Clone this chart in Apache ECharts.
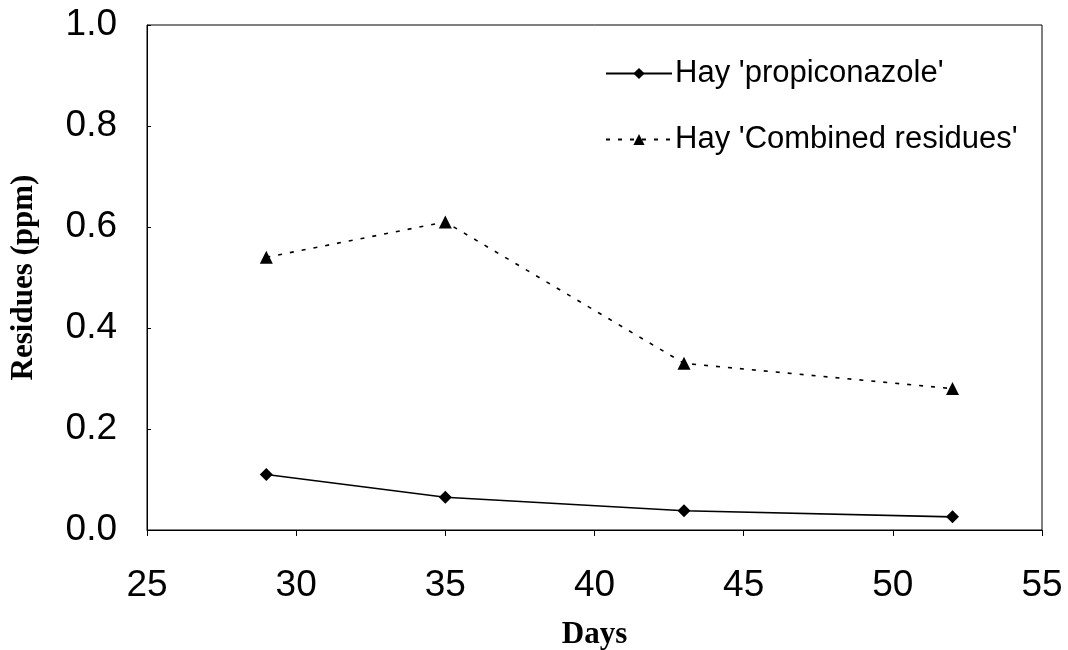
<!DOCTYPE html>
<html>
<head>
<meta charset="utf-8">
<script src="https://cdn.jsdelivr.net/npm/echarts@6/dist/echarts.min.js"></script>
<style>html,body{margin:0;padding:0;background:#fff;}#c{width:1068px;height:650px;}</style>
</head>
<body>
<div id="c"></div>
<script>
const days = [29, 35, 43, 52];
const propiconazole = [0.11, 0.065, 0.038, 0.026];
const combined = [0.54, 0.61, 0.33, 0.28];
const seriesNames = ["Hay 'propiconazole'", "Hay 'Combined residues'"];
const xTitle = "Days";
const yTitle = "Residues (ppm)";

const chart = echarts.init(document.getElementById('c'));
chart.setOption({
  backgroundColor: '#fff',
  animation: false,
  grid: { left: 147, right: 26, top: 25, bottom: 120, show: true, borderColor: '#000', borderWidth: 1, outerBoundsMode: 'none', containLabel: false },
  legend: {
    orient: 'vertical', left: 600, top: 53, itemWidth: 66, itemHeight: 14, itemGap: 35,
    textStyle: { fontFamily: 'Liberation Sans, Arial', fontSize: 31, color: '#000', padding: [0,0,0,-2] },
    data: seriesNames
  },
  xAxis: {
    type: 'value', min: 25, max: 55, interval: 5,
    name: xTitle, nameLocation: 'middle', nameGap: 89,
    nameTextStyle: { fontFamily: 'Liberation Serif, Times New Roman', fontWeight: 'bold', fontSize: 31, color: '#000' },
    axisLine: { show: true, onZero: false, lineStyle: { color: '#000', width: 1 } },
    axisTick: { show: true, inside: false, length: 6, lineStyle: { color: '#000' } },
    axisLabel: { margin: 37, fontFamily: 'Liberation Sans, Arial', fontSize: 37, color: '#000' },
    splitLine: { show: false }
  },
  yAxis: {
    type: 'value', min: 0, max: 1, interval: 0.2,
    name: yTitle, nameLocation: 'middle', nameGap: 108, nameRotate: 90,
    nameTextStyle: { fontFamily: 'Liberation Serif, Times New Roman', fontWeight: 'bold', fontSize: 31, color: '#000' },
    axisLine: { show: true, lineStyle: { color: '#000', width: 1 } },
    axisTick: { show: true, inside: true, length: 4, lineStyle: { color: '#000' } },
    axisLabel: { margin: 30, fontFamily: 'Liberation Sans, Arial', fontSize: 37, color: '#000', formatter: v => v.toFixed(1) },
    splitLine: { show: false }
  },
  series: [
    {
      name: seriesNames[0], type: 'line',
      data: days.map((d, i) => [d, propiconazole[i]]),
      symbol: 'diamond', symbolSize: 13,
      itemStyle: { color: '#000' },
      lineStyle: { color: '#000', width: 1.6, type: 'solid' }
    },
    {
      name: seriesNames[1], type: 'line',
      data: days.map((d, i) => [d, combined[i]]),
      symbol: 'triangle', symbolSize: 13,
      itemStyle: { color: '#000' },
      lineStyle: { color: '#000', width: 1.6, type: [4, 8] }
    }
  ]
});
</script>
</body>
</html>
